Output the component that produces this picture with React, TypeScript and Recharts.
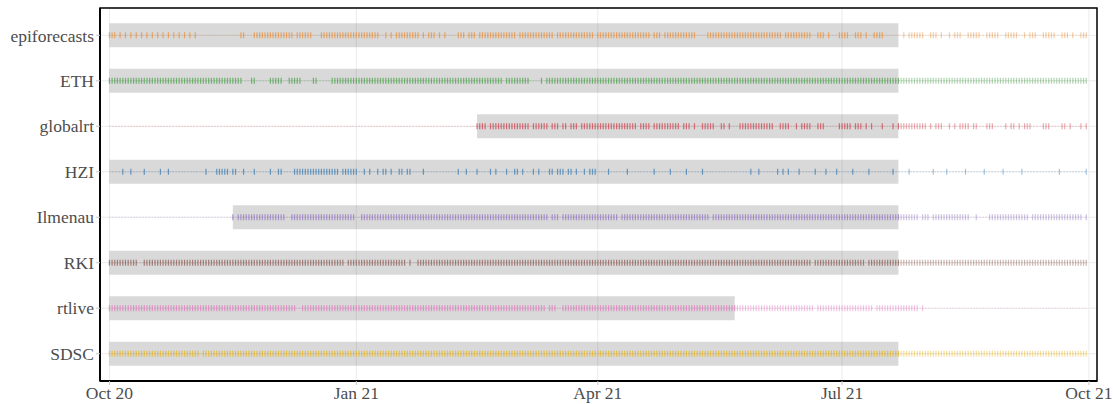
import {
  CartesianGrid,
  ReferenceArea,
  ReferenceLine,
  Scatter,
  ScatterChart,
  XAxis,
  YAxis,
} from "recharts";

// days counted from 2020-10-01; [a, b] means every day from a to b
const models = ["epiforecasts", "ETH", "globalrt", "HZI", "Ilmenau", "RKI", "rtlive", "SDSC"];

const colors = ["#e8913f", "#4fa24f", "#d0444f", "#3f7fb3", "#9577c2", "#8f5f55", "#e27cc0", "#e8b522"];

const bandStart = [0, 0, 137, 0, 46, 0, 0, 0];
const bandEnd = [294, 294, 294, 294, 294, 294, 233, 294];

const xTicks = [0, 92, 182, 273, 365];
const xTickLabels = ["Oct 20", "Jan 21", "Apr 21", "Jul 21", "Oct 21"];

const epiforecastsDays = [
  [0, 2], 4, 6, 8, 10, 12, 14, 16, 18, 20, 22, 24, 26, 28, 30, 32, 49, 50, 54, [55, 68], [70, 75],
  [79, 100], 103, 105, [107, 115], 117, [119, 121], 123, 125, [130, 132], [134, 136], [138, 151],
  [153, 165], [167, 180], [182, 201], [203, 205], [207, 218], [223, 250], [252, 261], [264, 266], 268,
  [272, 275], [278, 280], 282, [285, 288], 296, [298, 303], [306, 308], 310, 313, [315, 317],
  [320, 324], [327, 331], [334, 338], 341, [343, 345], [348, 352], [355, 357], 359, [362, 364],
];
const ethDays = [[0, 49], [53, 54], [60, 64], [67, 71], [76, 77], [83, 146], [148, 156], 161, [163, 364]];
const globalrtDays = [
  [137, 140], [142, 156], [158, 163], [165, 167], [169, 170], [172, 174], [176, 196], [198, 201],
  [203, 212], [214, 216], 218, [221, 225], [228, 229], 231, [235, 247], [250, 253], 256, [258, 261],
  [264, 266], [272, 276], [278, 280], 282, 284, 288, 292, [294, 304], 306, [308, 310], 313, 315,
  [317, 320], [322, 323], [327, 329], 334, [336, 337], 339, [341, 343], [348, 350], [355, 356], 358,
  362, 364,
];
const hziDays = [
  5, 8, 13, 19, 22, 36, [40, 44], [46, 47], 50, 54, 60, [63, 64], [69, 85], [87, 92], 95, 97, 100,
  102, 103, 105, 108, 109, 111, 112, 117, 130, 133, 137, 142, 144, 148, 151, 152, 154, 158, 160, 164,
  165, 167, 168, 169, 171, 172, 174, 177, 179, 180, 181, 186, 193, 203, 209, 215, 221, 239, 242, 249,
  251, 253, 257, 263, 267, 271, 277, 283, 292, 298, 307, 312, 319, 326, 333, 340, 354, 364,
];
const ilmenauDays = [
  46, [48, 65], [68, 91], [94, 163], [165, 167], [169, 189], [191, 223], [225, 301], [303, 305],
  [307, 320], 323, [328, 342], [344, 362], 364,
];
const rkiDays = [[0, 10], [13, 87], [89, 110], 112, [115, 261], [263, 281], [283, 364]];
const rtliveDays = [[0, 69], [72, 162], [164, 166], [169, 262], [264, 284], [286, 301], 303];
const sdscDays = [[0, 33], [35, 364]];

const allDays = [epiforecastsDays, ethDays, globalrtDays, hziDays, ilmenauDays, rkiDays, rtliveDays, sdscDays];

const expand = (list: (number | number[])[]) =>
  list.flatMap((d) =>
    Array.isArray(d) ? Array.from({ length: d[1] - d[0] + 1 }, (_, k) => d[0] + k) : [d]
  );

const tickFont = { fontFamily: "Liberation Serif", fontSize: 17.5, fill: "#4d4d4d" };

export default function App() {
  return (
    <div style={{ position: "absolute", left: 0, top: 0 }}>
      <ScatterChart width={1113} height={404} margin={{ top: 8, right: 16, bottom: 0, left: 0 }}>
        <CartesianGrid stroke="#ebebeb" />
        <XAxis
          type="number"
          dataKey="x"
          domain={[-3.5, 368]}
          allowDataOverflow
          ticks={xTicks}
          interval={0}
          tickFormatter={(v) => xTickLabels[xTicks.indexOf(v)]}
          tick={tickFont}
          tickSize={4}
          tickLine={{ stroke: "#c8c8c8" }}
          axisLine={{ stroke: "#000", strokeWidth: 1.8 }}
          height={23}
        />
        <YAxis
          type="number"
          dataKey="y"
          domain={[0.4, 8.6]}
          reversed
          allowDataOverflow
          ticks={[1, 2, 3, 4, 5, 6, 7, 8]}
          interval={0}
          tickFormatter={(v) => models[v - 1]}
          tick={tickFont}
          tickSize={4}
          tickLine={{ stroke: "#c8c8c8" }}
          axisLine={{ stroke: "#000", strokeWidth: 1.8 }}
          width={100}
        />
        {models.map((m, i) => (
          <ReferenceArea
            key={`band-${m}`}
            x1={bandStart[i]}
            x2={bandEnd[i]}
            y1={i + 1 - 0.264}
            y2={i + 1 + 0.264}
            fill="#000"
            fillOpacity={0.15}
            stroke="none"
          />
        ))}
        {models.map((m, i) => (
          <ReferenceLine
            key={`line-${m}`}
            segment={[
              { x: 0, y: i + 1 },
              { x: 364, y: i + 1 },
            ]}
            stroke={colors[i]}
            strokeOpacity={0.3}
            strokeDasharray="1.5 1.5"
          />
        ))}
        <ReferenceArea
          x1={-3.5}
          x2={368}
          y1={0.4}
          y2={8.6}
          fill="none"
          stroke="#000"
          strokeWidth={1.5}
          ifOverflow="visible"
        />
        {models.map((m, i) => (
          <Scatter
            key={m}
            name={m}
            data={expand(allDays[i]).map((x) => ({ x, y: i + 1 }))}
            isAnimationActive={false}
            shape={(p: any) => (
              <rect
                x={p.cx - 0.6}
                y={p.cy - 3}
                width={1.2}
                height={6}
                fill={colors[i]}
                fillOpacity={p.payload.x > bandEnd[i] ? 0.45 : 0.75}
              />
            )}
          />
        ))}
      </ScatterChart>
    </div>
  );
}
